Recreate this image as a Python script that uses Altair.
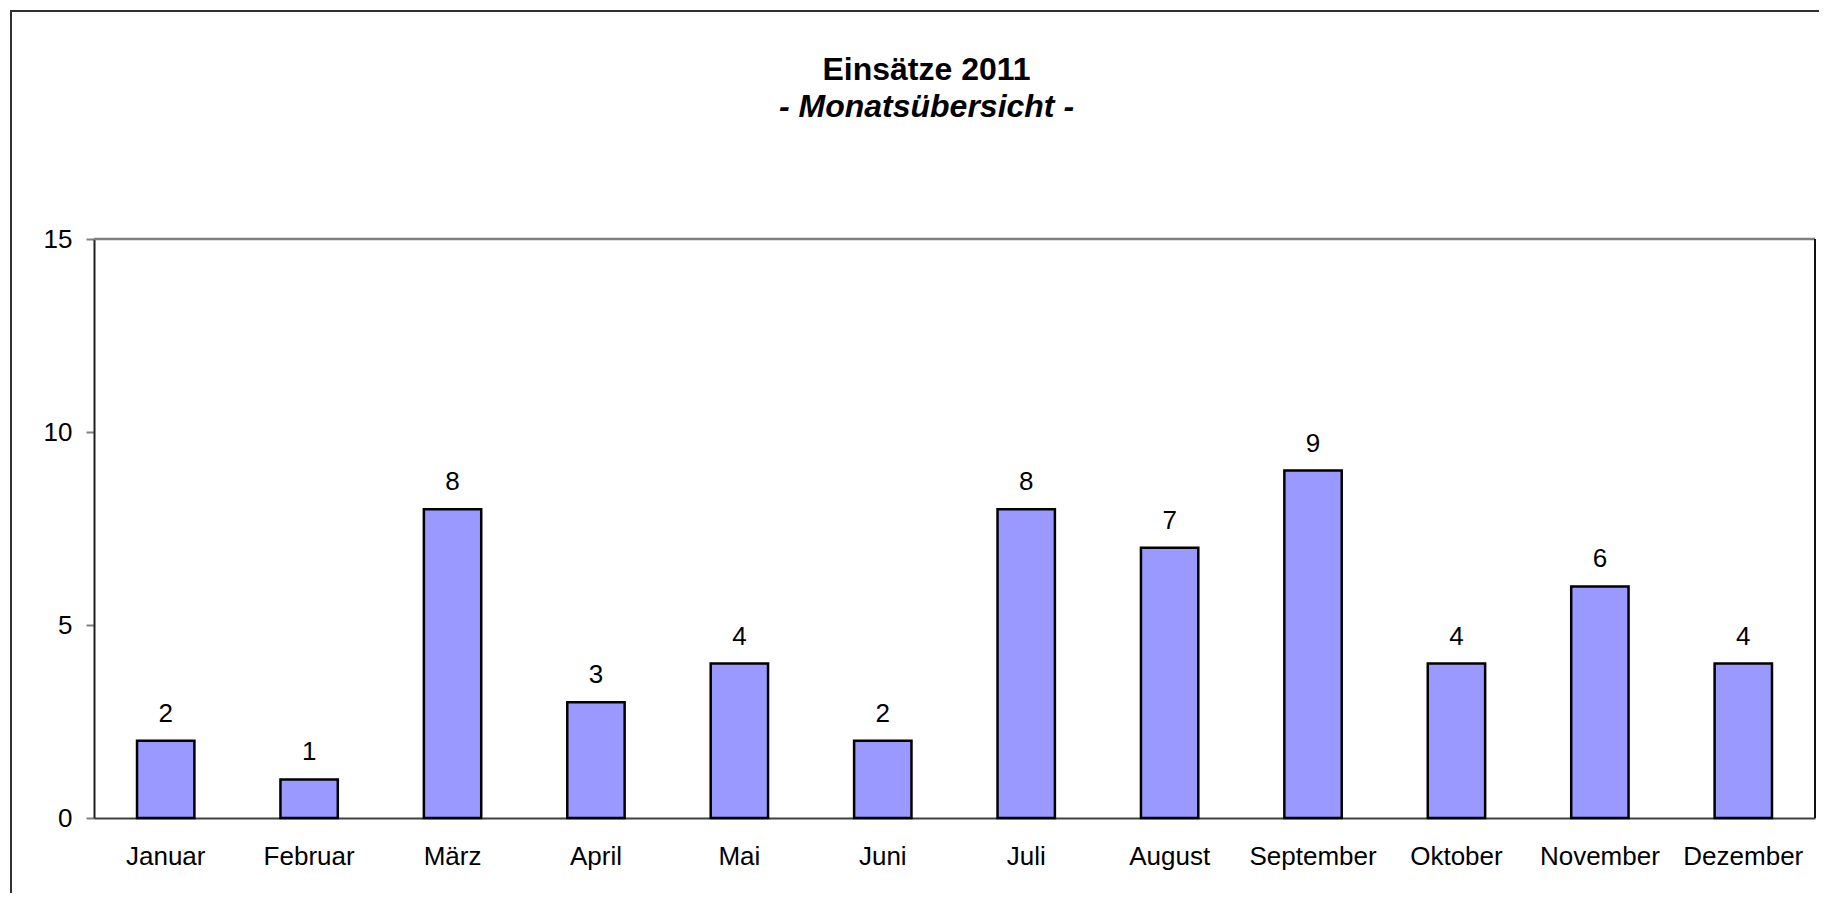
import altair as alt
import pandas as pd

months = ["Januar", "Februar", "März", "April", "Mai", "Juni", "Juli",
          "August", "September", "Oktober", "November", "Dezember"]
values = [2, 1, 8, 3, 4, 2, 8, 7, 9, 4, 6, 4]
y_ticks = [0, 5, 10, 15]

df = pd.DataFrame({"Monat": months, "Einsätze": values})

W, H = 1721, 579
FONT = "Liberation Sans"
FS = 26

x_enc = alt.X("Monat:N", sort=months,
              scale=alt.Scale(paddingInner=0.6, paddingOuter=0.3),
              axis=alt.Axis(title=None, labelAngle=0, labelFontSize=FS, labelFont=FONT,
                            labelColor="black", ticks=False, labelPadding=25,
                            domainColor="#404040", domainWidth=2, labelLimit=400))
y_enc = alt.Y("Einsätze:Q", scale=alt.Scale(domain=[0, 15], nice=False),
              axis=alt.Axis(title=None, values=y_ticks, grid=False, labelFontSize=FS,
                            labelFont=FONT, labelColor="black", tickSize=8,
                            tickColor="#808080", tickWidth=2, labelPadding=14,
                            domainColor="#202020", domainWidth=2))

base = alt.Chart(df)

frame = base.mark_rect(fill=None, stroke="#303030", strokeWidth=2, clip=False).encode(
    x=alt.value(-83), x2=alt.value(W + 200),
    y=alt.value(-228), y2=alt.value(H + 300)
).transform_filter("datum.Monat == 'Januar'")

bars = base.mark_bar(color="#9999FF", stroke="black", strokeWidth=2.5).encode(
    x=x_enc, y=y_enc)

labels = base.mark_text(fontSize=FS, font=FONT, color="black", baseline="alphabetic",
                        dy=-19).encode(
    x=alt.X("Monat:N", sort=months), y="Einsätze:Q", text="Einsätze:Q")

top_line = base.mark_rule(color="#808080", strokeWidth=2.5).encode(
    y=alt.datum(15), x=alt.value(0), x2=alt.value(W)
).transform_filter("datum.Monat == 'Januar'")

right_line = base.mark_rule(color="#101010", strokeWidth=2).encode(
    x=alt.value(W), y=alt.value(0), y2=alt.value(H)
).transform_filter("datum.Monat == 'Januar'")

chart = alt.layer(frame, bars, labels, top_line, right_line).properties(
    width=W, height=H,
    title=alt.TitleParams(
        text="Einsätze 2011", subtitle="- Monatsübersicht -",
        font=FONT, fontSize=32, fontWeight="bold", color="black",
        subtitleFont=FONT, subtitleFontSize=32, subtitleFontWeight="bold",
        subtitleFontStyle="italic", subtitleColor="black", subtitlePadding=5,
        anchor="middle", dx=-28, offset=-114
    ),
    padding={"left": 86, "top": 231, "right": 4, "bottom": 75},
    autosize=alt.AutoSizeParams(type="none")
).configure_view(stroke=None).configure(background="white")

chart.save("out.html", embed_options={"renderer": "svg", "actions": False})
